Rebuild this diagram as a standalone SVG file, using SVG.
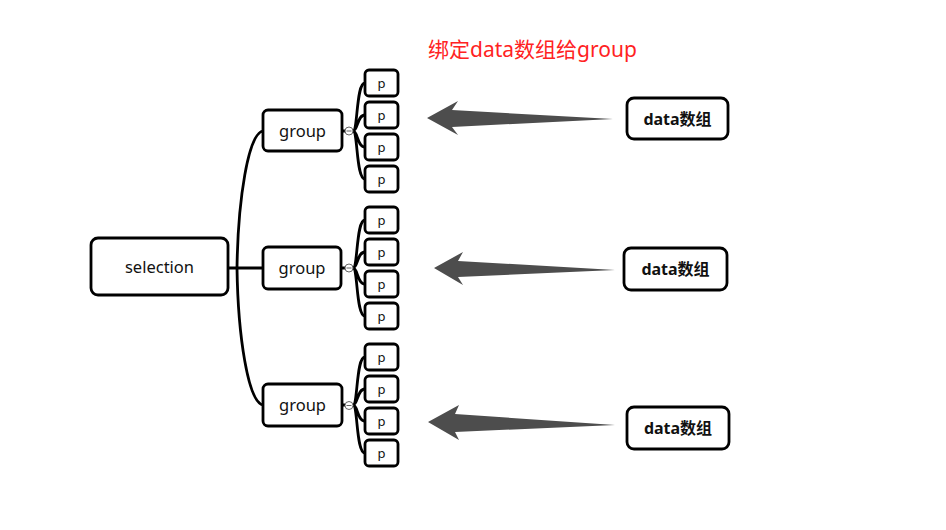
<svg xmlns="http://www.w3.org/2000/svg" width="946" height="530" viewBox="0 0 946 530">
<style>
.box{fill:#fff;stroke:#000;stroke-width:2.8}
.t{font-family:"Noto Sans","Noto Sans CJK SC",sans-serif;fill:#111;text-anchor:middle;dominant-baseline:central}
.g{font-size:16.5px}
.p{font-size:13px}
.d{font-size:16px;font-weight:bold}
.ln{fill:none;stroke:#000;stroke-width:2.8}
.arr{fill:#4d4d4d}
.col{fill:#fff;stroke:#666;stroke-width:1}
</style>
<rect width="946" height="530" fill="#fff"/>
<text x="428" y="57" font-family="Noto Sans, Noto Sans CJK SC, sans-serif" font-size="21" fill="#ff2222">绑定data数组给group</text>
<g id="connectors">
<path class="ln" d="M228,268 H263"/>
<path class="ln" d="M263,131 C248,134 238,200 237,268 C238,336 248,402 263,405"/>
<path class="ln" d="M353,131 C358,131 356,83 365,83 M353,131 C358,131 357,115 365,115 M353,131 C358,131 357,147 365,147 M353,131 C358,131 356,179 365,179"/>
<path class="ln" d="M353,268 C358,268 356,220 365,220 M353,268 C358,268 357,252 365,252 M353,268 C358,268 357,284 365,284 M353,268 C358,268 356,316 365,316"/>
<path class="ln" d="M353,405 C358,405 356,357 365,357 M353,405 C358,405 357,389 365,389 M353,405 C358,405 357,421 365,421 M353,405 C358,405 356,453 365,453"/>
<path class="ln" d="M342,131 H345 M342,268 H345 M342,405 H345"/>
<path class="arr" d="M427,118 L458,101 L452,110 L613,119 L452,127 L458,135 Z"/>
<path class="arr" d="M434,268 L463,252 L458,261 L615,270 L458,277 L463,285 Z"/>
<path class="arr" d="M428,422 L459,405 L455,414 L615,425 L455,432 L459,440 Z"/>
</g>
<g id="selection"><rect class="box" x="91" y="238" width="137" height="57" rx="7"/><text class="t g" x="159.5" y="266.5" font-size="17">selection</text></g>
<g id="group1"><rect class="box" x="263" y="110" width="79" height="41" rx="5"/><text class="t g" x="302.5" y="130.5">group</text>
<circle class="col" cx="349" cy="131" r="4"/><path d="M346.5,131 H351.5" stroke="#666" stroke-width="1"/></g>
<g id="group2"><rect class="box" x="263" y="247" width="78" height="42" rx="5"/><text class="t g" x="302" y="267.5">group</text>
<circle class="col" cx="349" cy="268" r="4"/><path d="M346.5,268 H351.5" stroke="#666" stroke-width="1"/></g>
<g id="group3"><rect class="box" x="263" y="384" width="79" height="42" rx="5"/><text class="t g" x="302.5" y="404.5">group</text>
<circle class="col" cx="349" cy="405.5" r="4"/><path d="M346.5,405.5 H351.5" stroke="#666" stroke-width="1"/></g>
<g id="p1a"><rect class="box" x="365" y="70" width="33" height="26" rx="4"/><text class="t p" x="381.5" y="83">p</text></g>
<g id="p1b"><rect class="box" x="365" y="102" width="33" height="26" rx="4"/><text class="t p" x="381.5" y="115">p</text></g>
<g id="p1c"><rect class="box" x="365" y="134" width="33" height="26" rx="4"/><text class="t p" x="381.5" y="147">p</text></g>
<g id="p1d"><rect class="box" x="365" y="166" width="33" height="26" rx="4"/><text class="t p" x="381.5" y="179">p</text></g>
<g id="p2a"><rect class="box" x="365" y="207" width="33" height="26" rx="4"/><text class="t p" x="381.5" y="220">p</text></g>
<g id="p2b"><rect class="box" x="365" y="239" width="33" height="26" rx="4"/><text class="t p" x="381.5" y="252">p</text></g>
<g id="p2c"><rect class="box" x="365" y="271" width="33" height="26" rx="4"/><text class="t p" x="381.5" y="284">p</text></g>
<g id="p2d"><rect class="box" x="365" y="303" width="33" height="26" rx="4"/><text class="t p" x="381.5" y="316">p</text></g>
<g id="p3a"><rect class="box" x="365" y="344" width="33" height="26" rx="4"/><text class="t p" x="381.5" y="357">p</text></g>
<g id="p3b"><rect class="box" x="365" y="376" width="33" height="26" rx="4"/><text class="t p" x="381.5" y="389">p</text></g>
<g id="p3c"><rect class="box" x="365" y="408" width="33" height="26" rx="4"/><text class="t p" x="381.5" y="421">p</text></g>
<g id="p3d"><rect class="box" x="365" y="440" width="33" height="26" rx="4"/><text class="t p" x="381.5" y="453">p</text></g>
<g id="data1"><rect class="box" x="627" y="98" width="101" height="41" rx="7"/><text class="t d" x="677.5" y="118.5">data数组</text></g>
<g id="data2"><rect class="box" x="624" y="248" width="103" height="42" rx="7"/><text class="t d" x="675.5" y="269">data数组</text></g>
<g id="data3"><rect class="box" x="627" y="407" width="102" height="42" rx="7"/><text class="t d" x="678" y="428">data数组</text></g>
</svg>
